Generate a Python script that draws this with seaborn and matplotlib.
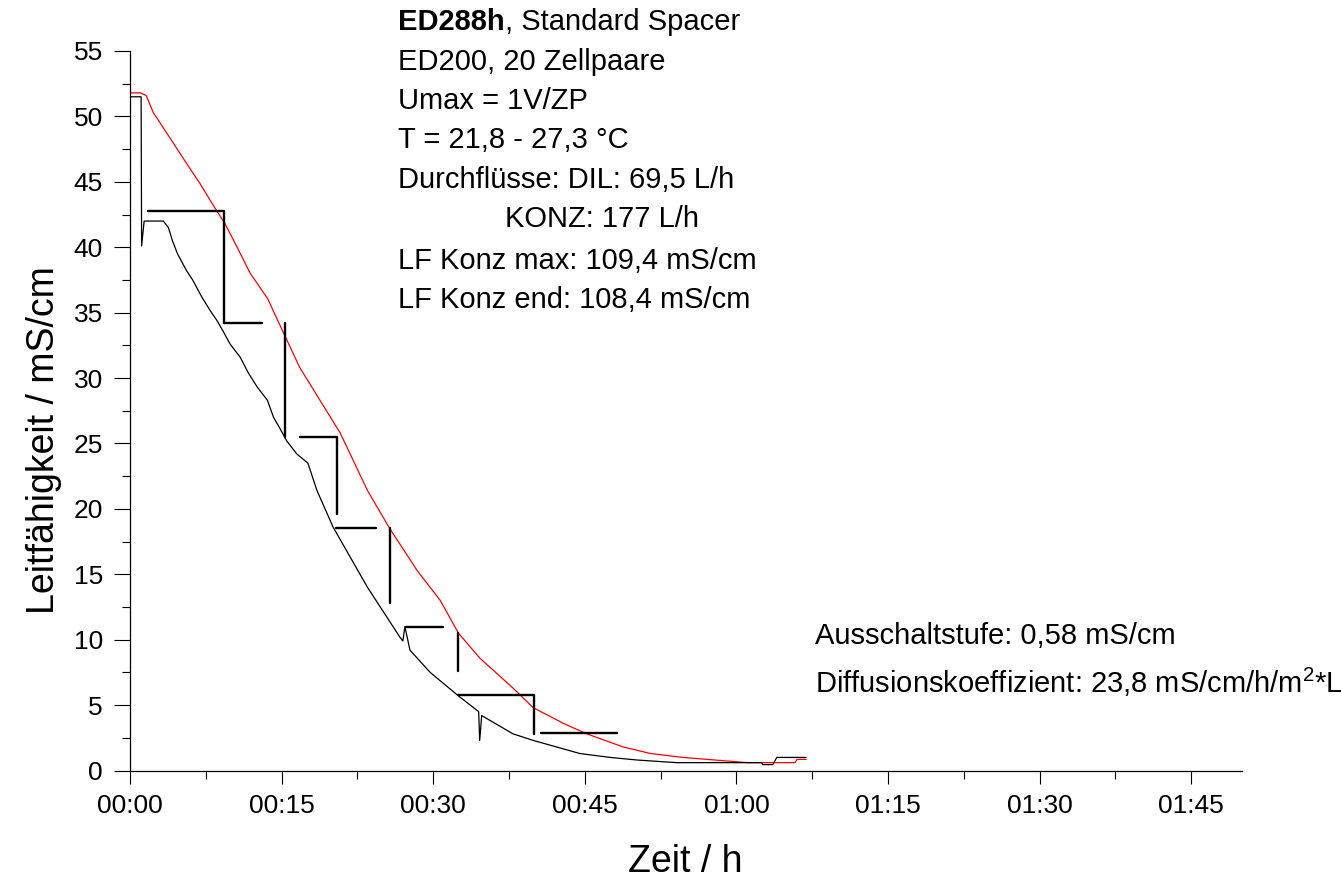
import pandas as pd
import matplotlib
matplotlib.use("Agg")
import matplotlib.pyplot as plt
from matplotlib.ticker import MultipleLocator, FuncFormatter
import seaborn as sns

# --- Daten (Zeit in Minuten, Leitfähigkeit in mS/cm) ---
rot_t = [0.0, 1.0, 1.6, 2.3, 4.0, 5.6, 6.9, 8.4, 9.4, 10.6, 11.9, 13.6, 15.1, 16.8,
         18.8, 20.8, 23.5, 25.7, 28.4, 30.7, 32.5, 34.6, 37.9, 39.9, 42.9, 45.2,
         48.8, 51.5, 54.7, 57.1, 61.1, 65.8, 66.0, 66.9]
rot_lf = [51.8, 51.8, 51.6, 50.3, 48.3, 46.4, 44.9, 43.0, 41.8, 40.0, 38.0, 36.1, 33.6, 30.8,
          28.3, 25.8, 21.4, 18.5, 15.3, 13.0, 10.5, 8.6, 6.3, 4.8, 3.6, 2.8,
          1.8, 1.3, 1.0, 0.85, 0.6, 0.6, 0.85, 0.85]

schwarz_t = [0.0, 1.1, 1.15, 1.4, 3.3, 3.8, 4.2, 4.7, 5.6, 6.2, 7.1, 7.9, 8.6, 9.2, 9.9,
             10.9, 11.7, 12.6, 13.6, 14.2, 14.8, 15.5, 16.5, 17.6, 18.5, 20.1, 21.8,
             23.5, 26.7, 27.0, 27.2, 27.7, 29.7, 32.5, 34.5, 34.6, 34.8, 37.9, 39.9,
             44.5, 47.5, 50.2, 54.1, 62.5, 62.6, 63.6, 64.0, 66.9]
schwarz_lf = [51.5, 51.5, 40.1, 42.0, 42.0, 41.5, 40.5, 39.5, 38.2, 37.5, 36.2, 35.2, 34.4, 33.6, 32.6,
              31.6, 30.4, 29.3, 28.3, 27.0, 26.2, 25.2, 24.2, 23.5, 21.4, 18.6, 16.3,
              14.0, 10.2, 9.9, 11.0, 9.2, 7.5, 5.7, 4.5, 2.3, 4.2, 2.8, 2.3,
              1.3, 1.0, 0.8, 0.6, 0.6, 0.45, 0.45, 1.0, 1.0]

# Stufen (einzelne Liniensegmente)
stufe_id = [1, 1, 1, 1, 2, 2, 3, 3, 3, 4, 4, 5, 5, 6, 6, 7, 7, 8, 8, 8, 9, 9]
stufe_t = [1.8, 9.3, 9.3, 13.1, 15.3, 15.3, 16.8, 20.5, 20.5, 20.4, 24.3, 25.7, 25.7,
           27.3, 31.0, 32.5, 32.5, 32.5, 40.0, 40.0, 40.7, 48.2]
stufe_lf = [42.8, 42.8, 34.2, 34.2, 34.2, 25.5, 25.5, 25.5, 19.6, 18.5, 18.5, 18.5, 12.8,
            11.0, 11.0, 10.5, 7.6, 5.8, 5.8, 2.8, 2.9, 2.9]

info_zeilen = ["ED200, 20 Zellpaare", "Umax = 1V/ZP", "T = 21,8 - 27,3 °C",
               "Durchflüsse: DIL: 69,5 L/h", "KONZ: 177 L/h",
               "LF Konz max: 109,4 mS/cm", "LF Konz end: 108,4 mS/cm"]

df = pd.concat([
    pd.DataFrame({"t": rot_t, "lf": rot_lf, "serie": "rot"}),
    pd.DataFrame({"t": schwarz_t, "lf": schwarz_lf, "serie": "schwarz"}),
])
stufen = pd.DataFrame({"id": stufe_id, "t": stufe_t, "lf": stufe_lf})

sns.set_theme(style="ticks")
plt.rcParams["font.family"] = ["Liberation Sans", "DejaVu Sans"]
plt.rcParams.update({
    "text.color": "black", "axes.labelcolor": "black",
    "xtick.color": "black", "ytick.color": "black",
    "mathtext.fontset": "custom", "mathtext.rm": "Liberation Sans",
    "mathtext.it": "Liberation Sans:italic", "mathtext.bf": "Liberation Sans:bold",
})

fig = plt.figure(figsize=(13.41, 8.83), dpi=100)
ax = fig.add_axes([130 / 1341, 1 - 770.5 / 883, 1111.7 / 1341, 719.5 / 883])

sns.lineplot(data=df, x="t", y="lf", hue="serie", palette={"rot": "#ff0000", "schwarz": "black"},
             estimator=None, sort=False, linewidth=0.9, legend=False, ax=ax)
sns.lineplot(data=stufen, x="t", y="lf", units="id", estimator=None, sort=False,
             color="black", linewidth=1.7, ax=ax)

ax.set_xlim(0, 110)
ax.set_ylim(0, 55)
ax.xaxis.set_major_locator(MultipleLocator(15))
ax.xaxis.set_minor_locator(MultipleLocator(7.5))
ax.yaxis.set_major_locator(MultipleLocator(5))
ax.yaxis.set_minor_locator(MultipleLocator(2.5))
ax.xaxis.set_major_formatter(FuncFormatter(lambda m, _: f"{int(m // 60):02d}:{int(round(m % 60)):02d}"))

sns.despine(ax=ax)
for s in ["left", "bottom"]:
    ax.spines[s].set_linewidth(0.9)
    ax.spines[s].set_color("black")
ax.tick_params(axis="both", which="major", labelsize=19, color="black", labelcolor="black",
               width=0.8, pad=8)
ax.tick_params(axis="x", which="major", length=9)
ax.tick_params(axis="y", which="major", length=11.5)
ax.tick_params(axis="both", which="minor", length=5.8, width=0.8, color="black")

ax.set_xlabel("Zeit / h", fontsize=27, va="center", color="black")
ax.set_ylabel("Leitfähigkeit / mS/cm", fontsize=27, va="center", color="black")
ax.xaxis.set_label_coords(0.4995, -(862 - 770.5) / 719.5)
ax.yaxis.set_label_coords((44 - 130) / 1111.7, (770.5 - 440) / 719.5)

# Textblock oben
fs = 21
t1 = fig.text(398 / 1341, 1 - 22 / 883, "ED288h", fontsize=fs, fontweight="bold", va="center")
ax.annotate(", Standard Spacer", xy=(1, 0), xycoords=t1, va="bottom", ha="left",
            fontsize=fs, annotation_clip=False)
ys = [62, 101, 140, 180, 219, 261, 300]
for zeile, y in zip(info_zeilen, ys):
    x = 505 if zeile.startswith("KONZ") else 398
    fig.text(x / 1341, 1 - y / 883, zeile, fontsize=fs, va="center")

fig.text(815 / 1341, 1 - 636 / 883, "Ausschaltstufe: 0,58 mS/cm", fontsize=fs, va="center")
fig.text(815 / 1341, 1 - 682 / 883, r"Diffusionskoeffizient: 23,8 mS/cm/h/m$^2$*L",
         fontsize=fs, va="center")

fig.savefig("out.png", dpi=100, facecolor="white")
